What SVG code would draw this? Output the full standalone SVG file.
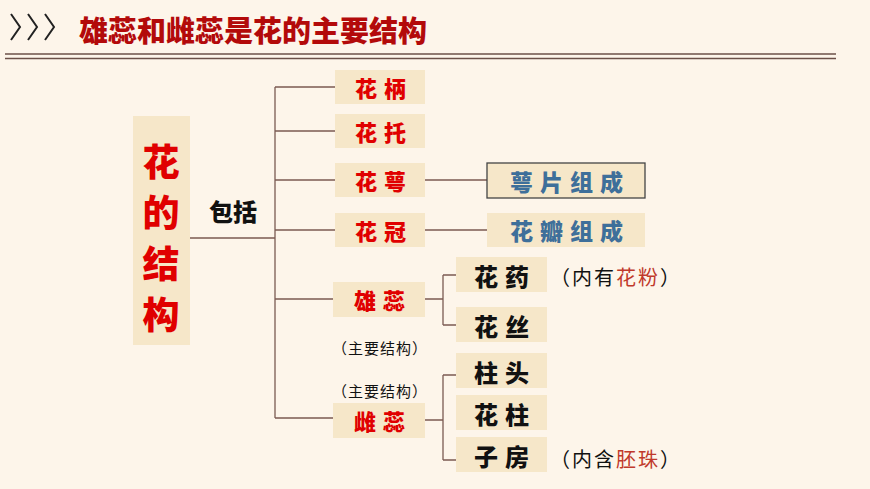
<svg xmlns="http://www.w3.org/2000/svg" width="870" height="489" viewBox="0 0 870 489">
<style>
.bx{fill:#f6e7c9}
.ln{stroke:#7b5a52;stroke-width:1.3;fill:none}
.t{font-family:"Noto Sans CJK SC",sans-serif;font-weight:900;text-anchor:middle;dominant-baseline:central}
.r{fill:#e00000;font-size:22px;letter-spacing:7px}
.k{fill:#111;font-size:24px;letter-spacing:7px}
.b{fill:#3e6f9a;font-size:23px;letter-spacing:7px}
.n{font-family:"Noto Sans CJK SC",sans-serif;font-size:15px;fill:#111;text-anchor:middle;dominant-baseline:central;letter-spacing:1px}
.p{font-family:"Noto Sans CJK SC",sans-serif;font-size:20px;fill:#111;dominant-baseline:central;letter-spacing:2px}
</style>
<rect width="870" height="489" fill="#fdf5ea"/>
<g id="header">
<path d="M11 14l9 13-9 13M28 14l9 13-9 13M45 14l9 13-9 13" stroke="#222" stroke-width="2" fill="none"/>
<text x="79" y="29" font-family="Noto Sans CJK SC,sans-serif" font-weight="900" font-size="29" fill="#b30a0a" dominant-baseline="central">雄蕊和雌蕊是花的主要结构</text>
<line x1="5" y1="54" x2="836" y2="54" stroke="#6b5048" stroke-width="1.5"/>
<line x1="5" y1="58.5" x2="836" y2="58.5" stroke="#6b5048" stroke-width="1.5"/>
</g>
<g id="connectors" class="ln">
<path d="M190 238H275M275 87V418M275 87H335M275 131H335M275 180H335M275 230H335M275 299H335M275 418H335"/>
<path d="M425 180H487M425 230H487"/>
<path d="M425 299H443M443 275V325M443 275H456M443 325H456"/>
<path d="M425 420H443M443 375V460M443 375H456M443 460H456"/>
</g>
<g id="root"><rect class="bx" x="133" y="116" width="57" height="229"/>
<text class="t" fill="#e00000" font-size="37" x="161" y="160">花</text>
<text class="t" fill="#e00000" font-size="37" x="161" y="211">的</text>
<text class="t" fill="#e00000" font-size="37" x="161" y="262">结</text>
<text class="t" fill="#e00000" font-size="37" x="161" y="313">构</text></g>
<g id="baokuo"><text class="t" x="233" y="210" font-size="24" fill="#111">包括</text></g>
<g id="huabing"><rect class="bx" x="335" y="70" width="90" height="34"/><text class="t r" x="384" y="87">花柄</text></g>
<g id="huatuo"><rect class="bx" x="335" y="114" width="90" height="34"/><text class="t r" x="384" y="131">花托</text></g>
<g id="huae"><rect class="bx" x="335" y="163" width="90" height="34"/><text class="t r" x="384" y="180">花萼</text></g>
<g id="huaguan"><rect class="bx" x="335" y="213" width="90" height="34"/><text class="t r" x="384" y="230">花冠</text></g>
<g id="xiongrui"><rect class="bx" x="333" y="282" width="92" height="35"/><text class="t r" x="383" y="299">雄蕊</text>
<text class="n" x="380" y="347">（主要结构）</text></g>
<g id="cirui"><rect class="bx" x="333" y="403" width="92" height="35"/><text class="t r" x="383" y="420">雌蕊</text>
<text class="n" x="380" y="390">（主要结构）</text></g>
<g id="epian"><rect class="bx" x="487" y="163" width="158" height="35" stroke="#444" stroke-width="1.3"/><text class="t b" x="570" y="181">萼片组成</text></g>
<g id="huaban"><rect class="bx" x="487" y="213" width="158" height="34"/><text class="t b" x="570" y="230">花瓣组成</text></g>
<g id="huayao"><rect class="bx" x="456" y="257" width="91" height="35"/><text class="t k" x="505" y="275">花药</text>
<text class="p" x="550" y="276">（内有<tspan fill="#c0392b">花粉</tspan>）</text></g>
<g id="huasi"><rect class="bx" x="456" y="307" width="91" height="35"/><text class="t k" x="505" y="325">花丝</text></g>
<g id="zhutou"><rect class="bx" x="456" y="353" width="91" height="35"/><text class="t k" x="505" y="371">柱头</text></g>
<g id="huazhu"><rect class="bx" x="456" y="395" width="91" height="35"/><text class="t k" x="505" y="413">花柱</text></g>
<g id="zifang"><rect class="bx" x="456" y="437" width="91" height="35"/><text class="t k" x="505" y="455">子房</text>
<text class="p" x="550" y="458" font-size="18">（内含<tspan fill="#c0392b">胚珠</tspan>）</text></g>
</svg>
